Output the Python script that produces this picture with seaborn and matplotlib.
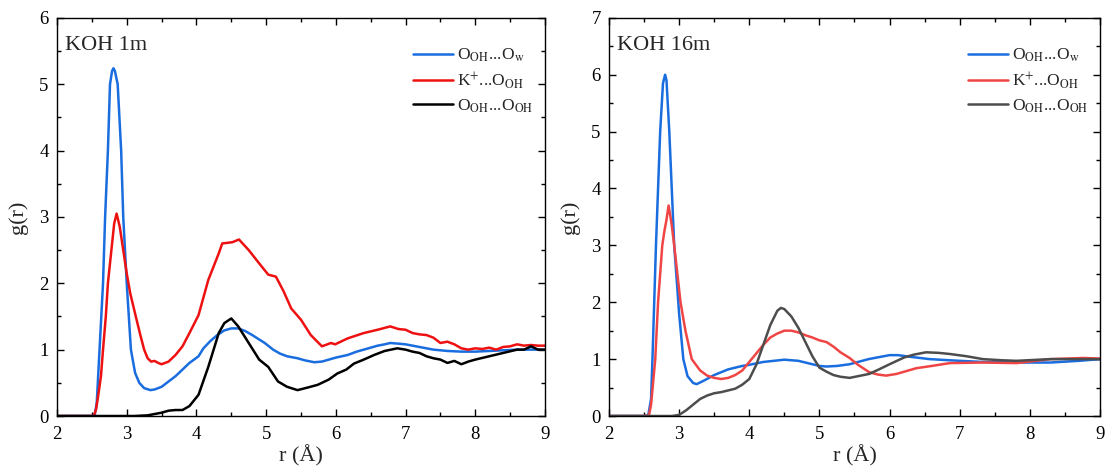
import numpy as np
import pandas as pd
import matplotlib
matplotlib.use("Agg")
import matplotlib.pyplot as plt
import seaborn as sns
from matplotlib.ticker import MultipleLocator

# ---------------- data ----------------
# KOH 1m
r_ow_1m = [2.0, 2.5, 2.54, 2.57, 2.61, 2.66, 2.69, 2.73, 2.76, 2.79, 2.81, 2.83, 2.87, 2.92, 2.95, 3.0, 3.06, 3.12, 3.18, 3.25, 3.34, 3.4, 3.5, 3.6, 3.7, 3.8, 3.9, 4.03, 4.1, 4.2, 4.3, 4.4, 4.5, 4.6, 4.7, 4.8, 4.98, 5.1, 5.2, 5.3, 5.45, 5.55, 5.69, 5.8, 5.9, 6.0, 6.17, 6.3, 6.4, 6.5, 6.6, 6.7, 6.78, 6.9, 7.0, 7.2, 7.4, 7.6, 7.8, 8.0, 8.2, 8.4, 8.6, 8.8, 9.0]
g_ow_1m = [0.0, 0.0, 0.01, 0.2, 1.0, 2.0, 3.0, 4.0, 5.0, 5.2, 5.24, 5.2, 5.0, 4.0, 3.0, 2.0, 1.0, 0.65, 0.5, 0.42, 0.39, 0.4, 0.44, 0.52, 0.6, 0.7, 0.8, 0.9, 1.02, 1.13, 1.22, 1.29, 1.32, 1.32, 1.28, 1.22, 1.1, 1.0, 0.94, 0.9, 0.87, 0.84, 0.81, 0.82, 0.85, 0.88, 0.92, 0.97, 1.0, 1.03, 1.06, 1.08, 1.1, 1.09, 1.08, 1.04, 1.0, 0.98, 0.97, 0.97, 0.98, 0.99, 1.0, 1.0, 1.0]

r_k_1m = [2.0, 2.5, 2.53, 2.56, 2.59, 2.63, 2.66, 2.7, 2.73, 2.78, 2.82, 2.855, 2.9, 2.95, 3.0, 3.05, 3.13, 3.2, 3.25, 3.3, 3.35, 3.4, 3.45, 3.5, 3.6, 3.7, 3.8, 3.9, 4.03, 4.17, 4.32, 4.37, 4.45, 4.52, 4.61, 4.75, 4.9, 5.03, 5.14, 5.25, 5.36, 5.5, 5.64, 5.8, 5.93, 5.99, 6.17, 6.4, 6.6, 6.78, 6.9, 7.0, 7.1, 7.2, 7.3, 7.4, 7.5, 7.6, 7.7, 7.8, 7.9, 8.0, 8.1, 8.2, 8.3, 8.4, 8.5, 8.6, 8.7, 8.8, 8.9, 9.0]
g_k_1m = [0.0, 0.0, 0.01, 0.1, 0.3, 0.6, 1.0, 1.5, 2.0, 2.5, 2.9, 3.05, 2.85, 2.5, 2.15, 1.85, 1.5, 1.2, 1.0, 0.87, 0.82, 0.83, 0.8, 0.78, 0.82, 0.92, 1.05, 1.25, 1.52, 2.05, 2.45, 2.6, 2.61, 2.62, 2.66, 2.5, 2.3, 2.13, 2.1, 1.88, 1.62, 1.45, 1.22, 1.05, 1.1, 1.08, 1.17, 1.25, 1.3, 1.35, 1.31, 1.3, 1.25, 1.23, 1.22, 1.18, 1.1, 1.12, 1.08, 1.02, 1.0, 1.02, 1.01, 1.03, 1.0, 1.04, 1.05, 1.08, 1.06, 1.07, 1.06, 1.06]

r_oo_1m = [2.0, 3.1, 3.3, 3.4, 3.5, 3.6, 3.7, 3.8, 3.9, 4.03, 4.17, 4.32, 4.4, 4.5, 4.6, 4.75, 4.9, 5.03, 5.17, 5.3, 5.45, 5.6, 5.74, 5.9, 6.02, 6.15, 6.26, 6.4, 6.55, 6.7, 6.88, 7.0, 7.1, 7.2, 7.3, 7.4, 7.5, 7.6, 7.7, 7.8, 7.9, 8.0, 8.2, 8.4, 8.6, 8.7, 8.8, 8.9, 9.0]
g_oo_1m = [0.0, 0.0, 0.01, 0.03, 0.05, 0.08, 0.09, 0.09, 0.15, 0.32, 0.74, 1.25, 1.4, 1.47, 1.35, 1.1, 0.85, 0.74, 0.52, 0.44, 0.39, 0.43, 0.47, 0.55, 0.64, 0.7, 0.79, 0.85, 0.92, 0.98, 1.02, 1.0, 0.97, 0.95, 0.9, 0.87, 0.85, 0.8, 0.83, 0.78, 0.82, 0.85, 0.9, 0.95, 1.0, 1.0, 1.05, 1.0, 1.0]

# KOH 16m
r_ow_16m = [2.0, 2.5, 2.56, 2.6, 2.62, 2.67, 2.73, 2.77, 2.8, 2.82, 2.86, 2.93, 3.0, 3.06, 3.12, 3.2, 3.25, 3.35, 3.5, 3.7, 3.9, 4.0, 4.2, 4.5, 4.7, 5.0, 5.1, 5.25, 5.43, 5.7, 6.0, 6.12, 6.3, 6.57, 7.0, 7.33, 7.8, 8.29, 8.7, 9.0]
g_ow_16m = [0.0, 0.0, 0.01, 0.3, 1.0, 3.0, 5.0, 5.85, 6.0, 5.9, 5.0, 3.0, 1.8, 1.0, 0.7, 0.58, 0.56, 0.62, 0.72, 0.82, 0.88, 0.9, 0.95, 0.99, 0.97, 0.88, 0.87, 0.88, 0.91, 1.0, 1.07, 1.07, 1.04, 1.0, 0.97, 0.95, 0.94, 0.94, 0.97, 1.0]

r_k_16m = [2.0, 2.5, 2.57, 2.6, 2.66, 2.7, 2.76, 2.79, 2.82, 2.85, 2.89, 2.93, 3.02, 3.09, 3.18, 3.3, 3.4, 3.5, 3.6, 3.7, 3.8, 3.9, 4.0, 4.1, 4.2, 4.3, 4.4, 4.5, 4.6, 4.7, 4.8, 4.9, 5.0, 5.1, 5.2, 5.3, 5.43, 5.55, 5.71, 5.83, 5.95, 6.1, 6.38, 6.6, 6.86, 7.33, 7.81, 8.29, 8.76, 9.0]
g_k_16m = [0.0, 0.0, 0.01, 0.2, 1.0, 2.0, 3.0, 3.25, 3.45, 3.7, 3.4, 3.0, 2.0, 1.5, 1.0, 0.8, 0.71, 0.67, 0.65, 0.67, 0.72, 0.8, 0.95, 1.1, 1.25, 1.38, 1.45, 1.5, 1.5, 1.47, 1.42, 1.38, 1.33, 1.3, 1.22, 1.12, 1.02, 0.9, 0.77, 0.73, 0.71, 0.74, 0.84, 0.88, 0.93, 0.94, 0.93, 1.0, 1.02, 1.01]

r_oo_16m = [2.0, 2.9, 3.0, 3.1, 3.2, 3.3, 3.4, 3.5, 3.6, 3.7, 3.8, 3.9, 4.0, 4.1, 4.2, 4.3, 4.4, 4.45, 4.5, 4.6, 4.7, 4.8, 4.9, 5.0, 5.1, 5.2, 5.3, 5.43, 5.55, 5.71, 5.85, 6.0, 6.21, 6.35, 6.52, 6.7, 6.86, 7.1, 7.33, 7.6, 7.81, 8.29, 8.7, 9.0]
g_oo_16m = [0.0, 0.0, 0.02, 0.1, 0.2, 0.3, 0.36, 0.4, 0.42, 0.45, 0.48, 0.55, 0.65, 0.9, 1.25, 1.6, 1.85, 1.9, 1.88, 1.75, 1.55, 1.3, 1.05, 0.85, 0.78, 0.72, 0.69, 0.67, 0.7, 0.74, 0.82, 0.91, 1.03, 1.08, 1.12, 1.11, 1.09, 1.05, 1.0, 0.98, 0.97, 1.0, 1.0, 1.0]

labels = [r"O$_{\mathrm{OH}}$...O$_{\mathrm{w}}$",
          r"K$^{+}$...O$_{\mathrm{OH}}$",
          r"O$_{\mathrm{OH}}$...O$_{\mathrm{OH}}$"]
titles = ["KOH 1m", "KOH 16m"]
colors_1m = ["#1a6ddf", "#ee1111", "#000000"]
colors_16m = ["#1a6ddf", "#f04545", "#4d4d4d"]

# ---------------- plotting ----------------
sns.set_theme(style="ticks")
plt.rcParams["font.family"] = ["Liberation Serif", "DejaVu Serif"]
plt.rcParams["mathtext.fontset"] = "stix"

fig = plt.figure(figsize=(11.05, 4.69), dpi=100)
ax1 = fig.add_axes([0.0516, 0.113, 0.4416, 0.849])
ax2 = fig.add_axes([0.5511, 0.113, 0.4444, 0.849])

panels = [
    (ax1, [(r_ow_1m, g_ow_1m), (r_k_1m, g_k_1m), (r_oo_1m, g_oo_1m)], colors_1m, titles[0], 6),
    (ax2, [(r_ow_16m, g_ow_16m), (r_k_16m, g_k_16m), (r_oo_16m, g_oo_16m)], colors_16m, titles[1], 7),
]

for ax, series, cols, title, ymax in panels:
    for (r, g), c, lab in zip(series, cols, labels):
        df = pd.DataFrame({"r": r, "g": g})
        sns.lineplot(data=df, x="r", y="g", ax=ax, color=c, lw=1.8, label=lab,
                     estimator=None, sort=False)
    ax.set_xlim(2, 9)
    ax.set_ylim(0, ymax)
    ax.xaxis.set_major_locator(MultipleLocator(1))
    ax.xaxis.set_minor_locator(MultipleLocator(0.5))
    ax.yaxis.set_major_locator(MultipleLocator(1))
    ax.yaxis.set_minor_locator(MultipleLocator(0.5))
    ax.tick_params(which="both", direction="in", top=True, right=True,
                   labelsize=13.5, width=1.0, colors="black")
    ax.tick_params(which="major", length=5)
    ax.tick_params(which="minor", length=3)
    ax.tick_params(axis="x", which="major", pad=7)
    ax.tick_params(axis="y", which="major", pad=6)
    for s in ax.spines.values():
        s.set_linewidth(1.0)
        s.set_color("black")
    ax.set_xlabel("r (Å)", fontsize=16, labelpad=2)
    ax.set_ylabel("g(r)", fontsize=16, labelpad=8)
    ax.text(0.017, 0.955, title, transform=ax.transAxes, fontsize=16,
            va="top", ha="left")
    leg = ax.legend(loc="upper right", bbox_to_anchor=(0.99, 0.945), frameon=False,
                    fontsize=12.5, handlelength=2.3, handletextpad=0.2,
                    labelspacing=0.35, borderaxespad=0.0)

fig.savefig("out.png", dpi=100)
